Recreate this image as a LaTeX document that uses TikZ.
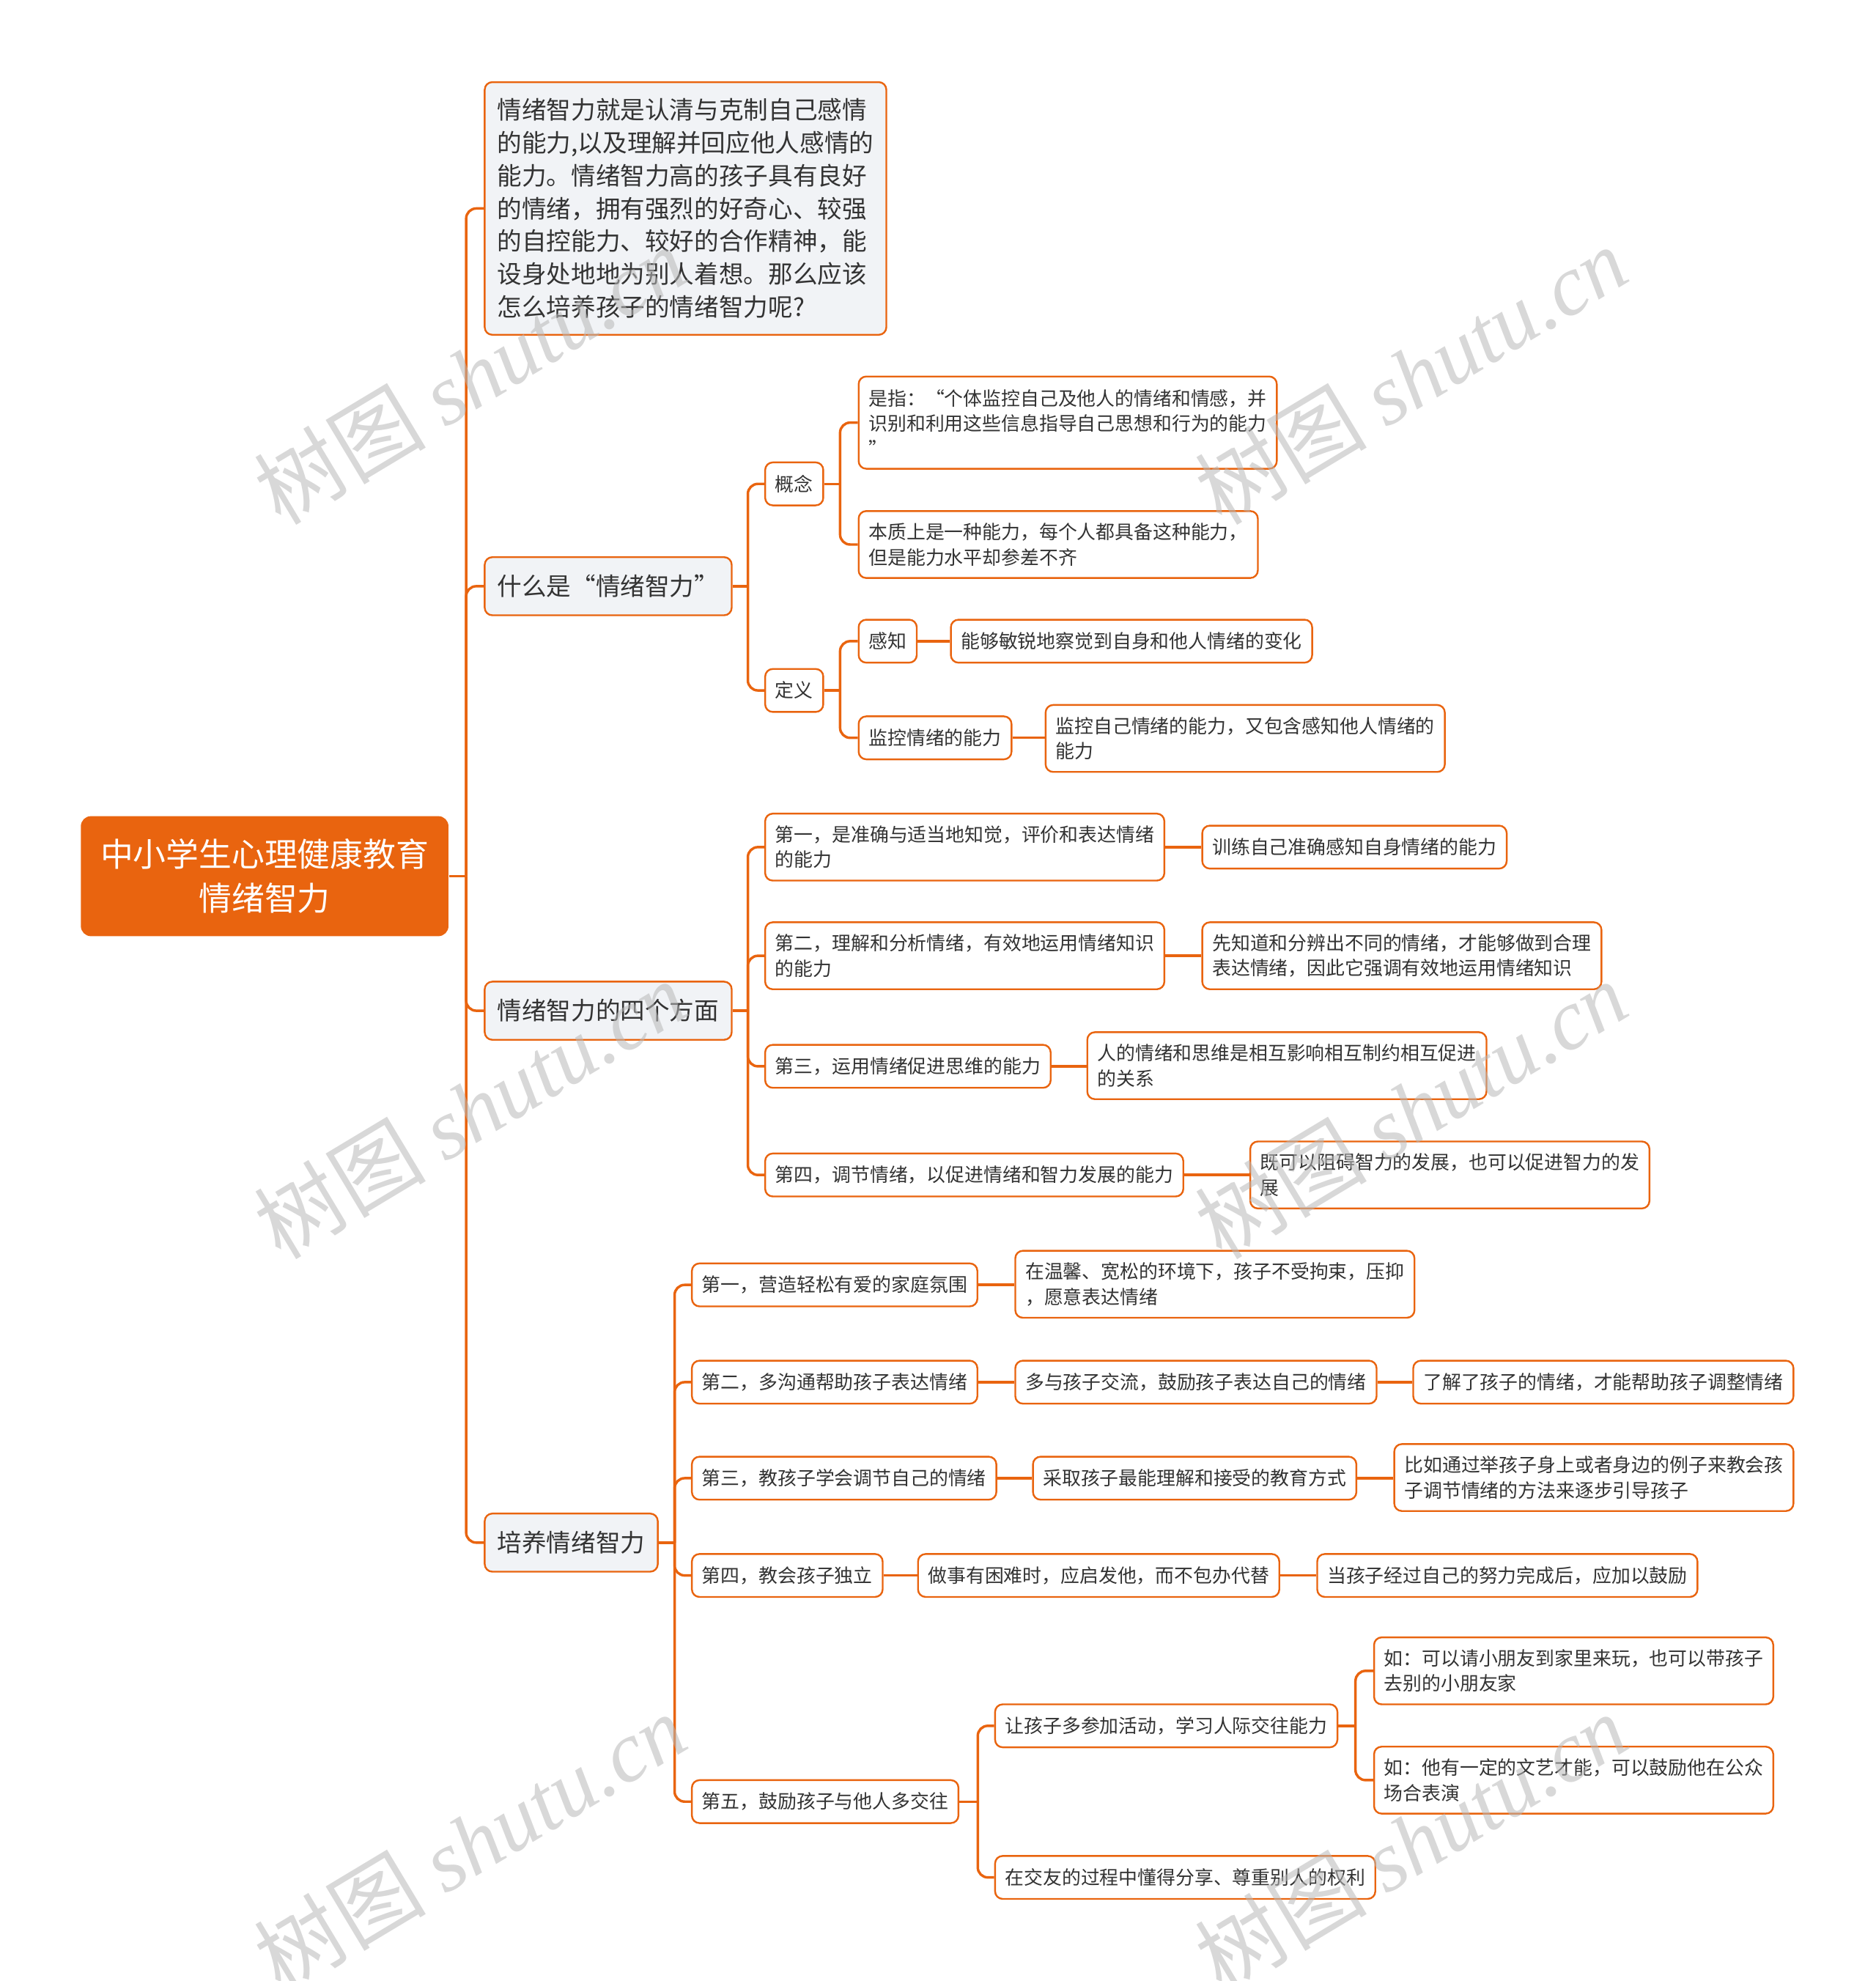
\documentclass[tikz,border=0pt]{standalone}
\usepackage{fontspec}
\setmainfont{Noto Sans CJK SC}
\newfontfamily\wmfont{Liberation Serif}
\definecolor{org}{HTML}{E9640F}
\definecolor{txt}{HTML}{333333}
\definecolor{lbg}{HTML}{F1F3F6}
\definecolor{wm}{HTML}{B8B8B8}
\tikzset{
 box/.style={draw=org, line width=0.7pt, rounded corners=3pt, fill=white, text=txt,
   font=\fontsize{7.5pt}{10pt}\selectfont, inner xsep=4pt, inner ysep=2pt,
   minimum height=17pt, align=left, anchor=west},
 twoline/.style={minimum height=26.5pt},
 lone/.style={box, fill=lbg, font=\fontsize{9.75pt}{13pt}\selectfont, inner xsep=5pt, minimum height=23pt},
 conn/.style={draw=org, line width=1pt, rounded corners=4pt},
 wmark/.style={rotate=31, text=wm, opacity=0.55, font=\fontsize{34pt}{34pt}\selectfont},
}
\begin{document}
\begin{tikzpicture}[x=0.5pt,y=-0.5pt]
\useasboundingbox (0,0) rectangle (1485,1568);

% root
\node[fill=org, rounded corners=4pt, text=white, font=\fontsize{13pt}{17.5pt}\selectfont,
  align=center, minimum width=145.5pt, minimum height=47.5pt] (root) at (209.5,693.5)
  {中小学生心理健康教育\\情绪智力};

% level 1
\node[lone, minimum height=100pt] (para) at (383,165) {情绪智力就是认清与克制自己感情\\的能力,以及理解并回应他人感情的\\能力。情绪智力高的孩子具有良好\\的情绪，拥有强烈的好奇心、较强\\的自控能力、较好的合作精神，能\\设身处地地为别人着想。那么应该\\怎么培养孩子的情绪智力呢?};
\node[lone] (what) at (383,464) {什么是“情绪智力”};
\node[lone] (four) at (383,800) {情绪智力的四个方面};
\node[lone] (cult) at (383,1221) {培养情绪智力};

% branch: what
\node[box] (gn) at (605,383) {概念};
\node[box] (dy) at (605,546.5) {定义};
\node[box, minimum height=36.5pt] (shi) at (679,334.5) {是指：“个体监控自己及他人的情绪和情感，并\\识别和利用这些信息指导自己思想和行为的能力\\”};
\node[box, twoline] (bz) at (679,431) {本质上是一种能力，每个人都具备这种能力，\\但是能力水平却参差不齐};
\node[box] (gz) at (679,507.5) {感知};
\node[box] (gzc) at (752,507.5) {能够敏锐地察觉到自身和他人情绪的变化};
\node[box] (jk) at (679,584) {监控情绪的能力};
\node[box, twoline] (jkc) at (827,584.5) {监控自己情绪的能力，又包含感知他人情绪的\\能力};

% branch: four
\node[box, twoline] (f1) at (605,670.5) {第一，是准确与适当地知觉，评价和表达情绪\\的能力};
\node[box] (f1c) at (951,670.5) {训练自己准确感知自身情绪的能力};
\node[box, twoline] (f2) at (605,756.5) {第二，理解和分析情绪，有效地运用情绪知识\\的能力};
\node[box, twoline] (f2c) at (951,756.5) {先知道和分辨出不同的情绪，才能够做到合理\\表达情绪，因此它强调有效地运用情绪知识};
\node[box] (f3) at (605,844) {第三，运用情绪促进思维的能力};
\node[box, twoline] (f3c) at (860,843.5) {人的情绪和思维是相互影响相互制约相互促进\\的关系};
\node[box] (f4) at (605,930) {第四，调节情绪，以促进情绪和智力发展的能力};
\node[box, twoline] (f4c) at (989,930) {既可以阻碍智力的发展，也可以促进智力的发\\展};

% branch: cult
\node[box] (c1) at (547,1017) {第一，营造轻松有爱的家庭氛围};
\node[box, twoline] (c1c) at (803,1016.5) {在温馨、宽松的环境下，孩子不受拘束，压抑\\，愿意表达情绪};
\node[box] (c2) at (547,1094) {第二，多沟通帮助孩子表达情绪};
\node[box] (c2c) at (803,1094) {多与孩子交流，鼓励孩子表达自己的情绪};
\node[box] (c2cc) at (1118,1094) {了解了孩子的情绪，才能帮助孩子调整情绪};
\node[box] (c3) at (547,1170) {第三，教孩子学会调节自己的情绪};
\node[box] (c3c) at (817,1170) {采取孩子最能理解和接受的教育方式};
\node[box, twoline] (c3cc) at (1103,1169.5) {比如通过举孩子身上或者身边的例子来教会孩\\子调节情绪的方法来逐步引导孩子};
\node[box] (c4) at (547,1247) {第四，教会孩子独立};
\node[box] (c4c) at (726,1247) {做事有困难时，应启发他，而不包办代替};
\node[box] (c4cc) at (1042,1247) {当孩子经过自己的努力完成后，应加以鼓励};
\node[box] (c5) at (547,1426) {第五，鼓励孩子与他人多交往};
\node[box] (c5a) at (787,1366) {让孩子多参加活动，学习人际交往能力};
\node[box] (c5b) at (787,1486) {在交友的过程中懂得分享、尊重别人的权利};
\node[box, twoline] (c5a1) at (1087,1322.5) {如：可以请小朋友到家里来玩，也可以带孩子\\去别的小朋友家};
\node[box, twoline] (c5a2) at (1087,1409) {如：他有一定的文艺才能，可以鼓励他在公众\\场合表演};

% trunk coordinates
\coordinate (t0) at (369,693.5);
\coordinate (tA) at (592,464);
\coordinate (tB) at (665,383);
\coordinate (tC) at (665,546.5);
\coordinate (tD) at (592,800);
\coordinate (tE) at (534,1221);
\coordinate (tF) at (774,1426);
\coordinate (tG) at (1073,1366);

% connectors
\draw[conn] (root.east) -- (t0);
\foreach \c in {para,what,four,cult} \draw[conn] (t0) |- (\c.west);
\draw[conn] (what.east) -- (tA);
\foreach \c in {gn,dy} \draw[conn] (tA) |- (\c.west);
\draw[conn] (gn.east) -- (tB);
\foreach \c in {shi,bz} \draw[conn] (tB) |- (\c.west);
\draw[conn] (dy.east) -- (tC);
\foreach \c in {gz,jk} \draw[conn] (tC) |- (\c.west);
\draw[conn] (gz.east) -- (gz.east -| gzc.west);
\draw[conn] (jk.east) -- (jk.east -| jkc.west);
\draw[conn] (four.east) -- (tD);
\foreach \c in {f1,f2,f3,f4} \draw[conn] (tD) |- (\c.west);
\draw[conn] (f1.east) -- (f1.east -| f1c.west);
\draw[conn] (f2.east) -- (f2.east -| f2c.west);
\draw[conn] (f3.east) -- (f3.east -| f3c.west);
\draw[conn] (f4.east) -- (f4.east -| f4c.west);
\draw[conn] (cult.east) -- (tE);
\foreach \c in {c1,c2,c3,c4,c5} \draw[conn] (tE) |- (\c.west);
\draw[conn] (c1.east) -- (c1.east -| c1c.west);
\draw[conn] (c2.east) -- (c2.east -| c2c.west);
\draw[conn] (c2c.east) -- (c2c.east -| c2cc.west);
\draw[conn] (c3.east) -- (c3.east -| c3c.west);
\draw[conn] (c3c.east) -- (c3c.east -| c3cc.west);
\draw[conn] (c4.east) -- (c4.east -| c4c.west);
\draw[conn] (c4c.east) -- (c4c.east -| c4cc.west);
\draw[conn] (c5.east) -- (tF);
\foreach \c in {c5a,c5b} \draw[conn] (tF) |- (\c.west);
\draw[conn] (c5a.east) -- (tG);
\foreach \c in {c5a1,c5a2} \draw[conn] (tG) |- (\c.west);

% watermarks
\node[wmark] (wm1) at (372,297) {树图 {\wmfont\itshape shutu.cn}};
\node[wmark] (wm2) at (1117,297) {树图 {\wmfont\itshape shutu.cn}};
\node[wmark] (wm3) at (372,878) {树图 {\wmfont\itshape shutu.cn}};
\node[wmark] (wm4) at (1117,878) {树图 {\wmfont\itshape shutu.cn}};
\node[wmark] (wm5) at (372,1458) {树图 {\wmfont\itshape shutu.cn}};
\node[wmark] (wm6) at (1117,1458) {树图 {\wmfont\itshape shutu.cn}};
\end{tikzpicture}
\end{document}
